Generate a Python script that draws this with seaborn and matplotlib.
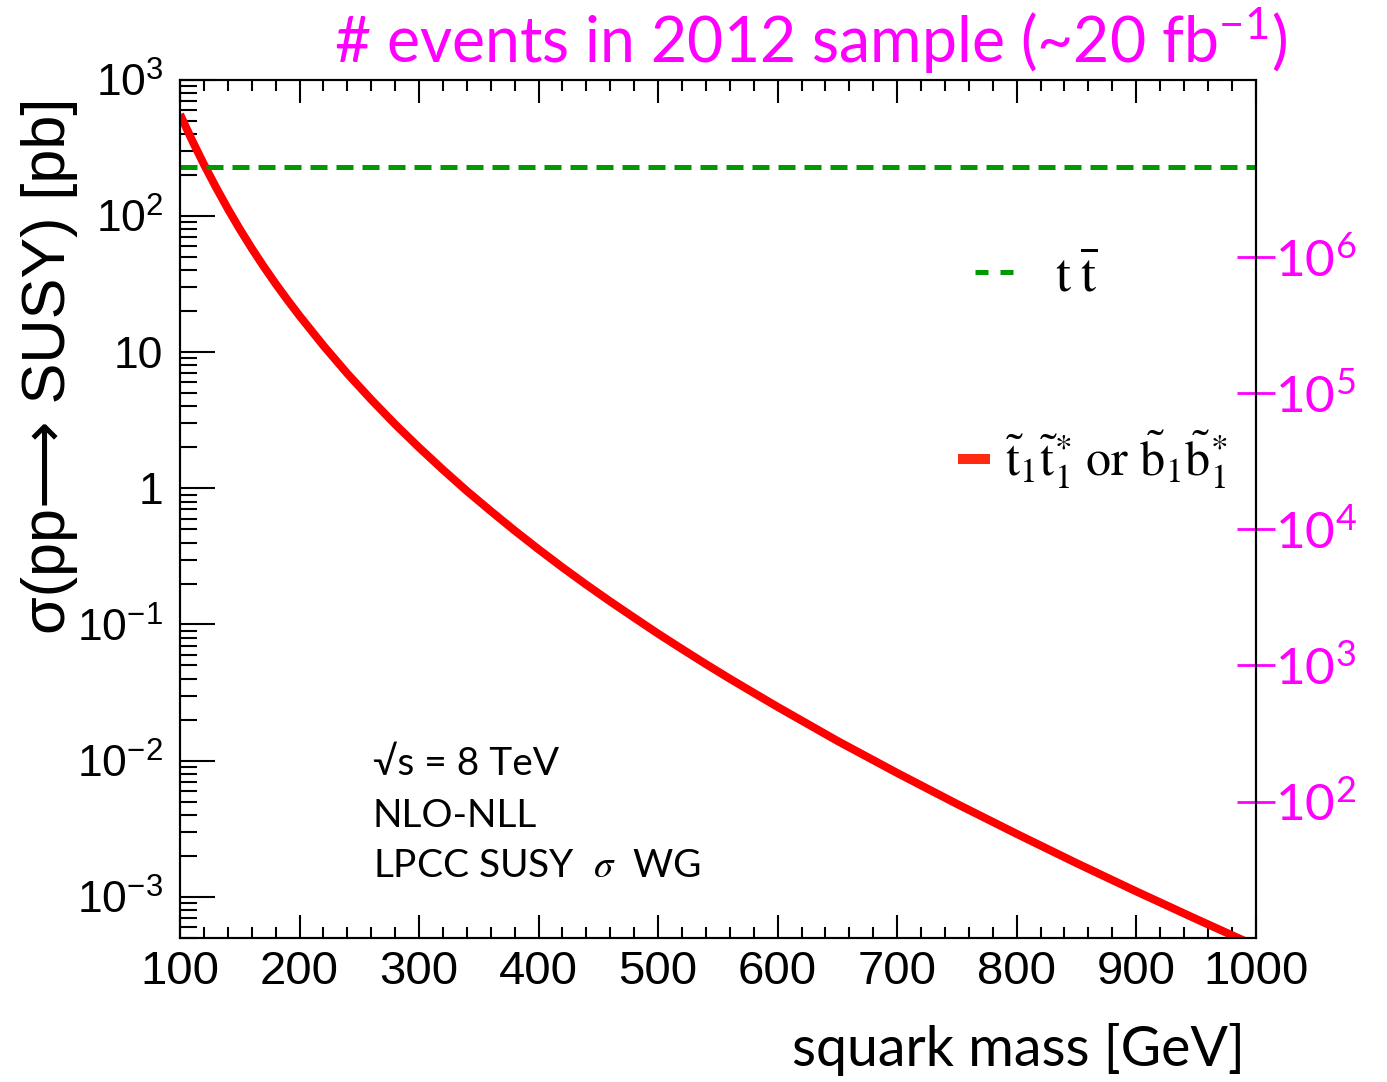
import numpy as np
import pandas as pd
import matplotlib
matplotlib.use("Agg")
import matplotlib.pyplot as plt
from matplotlib.lines import Line2D
from matplotlib.ticker import FixedLocator, MultipleLocator, LogLocator, NullLocator, FuncFormatter, NullFormatter
import seaborn as sns

# stop / sbottom pair production cross section at 8 TeV, NLO+NLL [pb]
squark_mass = [100, 110, 120, 130, 140, 150, 160, 170, 180, 190,
               200, 220, 240, 260, 280, 300, 320, 340, 360, 380,
               400, 420, 440, 460, 480, 500, 520, 540, 560, 580,
               600, 650, 700, 750, 800, 850, 900, 950, 1000]
xsec_pb = [559.76, 361.92, 240.08, 163.38, 113.32, 80.27, 58.01, 42.64, 31.87, 24.16,
           18.52, 11.18, 6.969, 4.488, 2.956, 1.996, 1.371, 0.9570, 0.6813, 0.4897,
           0.3568, 0.2627, 0.1958, 0.1475, 0.1122, 0.08558, 0.06602, 0.05117, 0.03996, 0.03146,
           0.02480, 0.01396, 0.008114, 0.004806, 0.002896, 0.001767, 0.001095, 0.000687, 0.000435]

# top pair cross section [pb]
ttbar_xsec = 231.0

# integrated luminosity of the 2012 sample, in pb^-1
lumi_pb = 20000.0

x_major = [100, 200, 300, 400, 500, 600, 700, 800, 900, 1000]
y_major = [1e-3, 1e-2, 1e-1, 1, 10, 1e2, 1e3]
y_labels = [r"$\mathregular{10^{-3}}$", r"$\mathregular{10^{-2}}$", r"$\mathregular{10^{-1}}$",
            "1", "10", r"$\mathregular{10^{2}}$", r"$\mathregular{10^{3}}$"]
events_major = [1e2, 1e3, 1e4, 1e5, 1e6]
events_labels = [r"$\mathregular{10^{2}}$", r"$\mathregular{10^{3}}$", r"$\mathregular{10^{4}}$",
                 r"$\mathregular{10^{5}}$", r"$\mathregular{10^{6}}$"]

sns.set_style("ticks")
plt.rcParams["font.family"] = ["Liberation Sans", "DejaVu Sans"]
plt.rcParams["axes.linewidth"] = 1.5
for key in ("text.color", "axes.labelcolor", "xtick.color", "ytick.color", "axes.edgecolor"):
    plt.rcParams[key] = "black"

MAGENTA = "#ff00ff"
HUMANIST = ["Lato", "DejaVu Sans"]

fig = plt.figure(figsize=(13.87, 10.82), dpi=100)
ax = fig.add_axes([180 / 1387, 1 - 937.7 / 1082, (1255.7 - 180) / 1387, (937.7 - 80) / 1082])

df = pd.DataFrame({"mass": squark_mass, "xsec": xsec_pb})
sns.lineplot(data=df, x="mass", y="xsec", color="#ff0000", linewidth=5.8, ax=ax,
             solid_capstyle="butt", solid_joinstyle="round")

df_tt = pd.DataFrame({"mass": [squark_mass[0], squark_mass[-1]],
                      "xsec": [ttbar_xsec, ttbar_xsec]})
sns.lineplot(data=df_tt, x="mass", y="xsec", color="#009900", linewidth=3.6,
             linestyle=(0, (3.4, 1.8)), ax=ax)

ax.set_yscale("log")
ax.set_xlim(100, 1000)
ax.set_ylim(5e-4, 1e3)
ax.set_xlabel("")
ax.set_ylabel("")

ax.xaxis.set_major_locator(FixedLocator(x_major))
ax.xaxis.set_minor_locator(MultipleLocator(20))
ax.yaxis.set_major_locator(FixedLocator(y_major))
ax.yaxis.set_major_formatter(FuncFormatter(lambda v, p: y_labels[y_major.index(v)] if v in y_major else ""))
ax.yaxis.set_minor_locator(LogLocator(base=10, subs=np.arange(2, 10), numticks=20))
ax.yaxis.set_minor_formatter(NullFormatter())

ax.tick_params(axis="x", which="major", direction="in", length=16.5, width=1.5,
               top=True, bottom=True, labelsize=34, pad=9, colors="black")
ax.tick_params(axis="x", which="minor", direction="in", length=8, width=1.5, top=True, bottom=True,
               colors="black")
ax.tick_params(axis="y", which="major", direction="in", length=25, width=1.5,
               left=True, right=True, labelsize=32, pad=12, colors="black")
ax.tick_params(axis="y", which="minor", direction="in", length=12, width=1.5, left=True, right=True,
               colors="black")
for s in ax.spines.values():
    s.set_visible(True)
    s.set_color("black")
    s.set_linewidth(1.5)

# second scale: expected number of events
ax2 = ax.twinx()
ax2.set_yscale("log")
ax2.set_ylim(5e-4 * lumi_pb, 1e3 * lumi_pb)
ax2.yaxis.set_major_locator(FixedLocator(events_major))
ax2.yaxis.set_major_formatter(FuncFormatter(
    lambda v, p: events_labels[events_major.index(v)] if v in events_major else ""))
ax2.yaxis.set_minor_locator(NullLocator())
ax2.tick_params(axis="y", which="major", direction="inout", length=28, width=2,
                colors=MAGENTA, labelsize=37, pad=0)
for lab in ax2.get_yticklabels():
    lab.set_family(HUMANIST)
for s in ax2.spines.values():
    s.set_color("black")
    s.set_linewidth(1.5)

# legend entries
h_tt = Line2D([], [], color="#009900", linewidth=3.6, linestyle=(0, (2.6, 2.4)))
h_st = Line2D([], [], color="#ff2a10", linewidth=7.2, solid_capstyle="butt")
leg1 = ax.legend([h_tt], [r"$\mathrm{t\;\overline{t}}$"], loc="center left",
                 bbox_to_anchor=(0.739, 0.770), frameon=False, fontsize=39,
                 handlelength=0.74, handletextpad=0.74, borderpad=0, borderaxespad=0)
ax.add_artist(leg1)
leg2 = ax.legend([h_st],
                 [r"$\tilde{\mathrm{t}}_1\tilde{\mathrm{t}}_1^{*}\ \mathrm{or}\ \tilde{\mathrm{b}}_1\tilde{\mathrm{b}}_1^{*}$"],
                 loc="center left", bbox_to_anchor=(0.723, 0.557), frameon=False, fontsize=36,
                 handlelength=0.65, handletextpad=0.3, borderpad=0, borderaxespad=0)
for lg in (leg1, leg2):
    for t in lg.get_texts():
        t.set_math_fontfamily("stix")

# annotation block
ax.text(0.179, 0.190, "\u221as = 8 TeV", transform=ax.transAxes, fontsize=28,
        family=HUMANIST, va="baseline", ha="left")
ax.text(0.179, 0.129, "NLO-NLL", transform=ax.transAxes, fontsize=28,
        family=HUMANIST, va="baseline", ha="left")
t_wg = ax.text(0.179, 0.0708, r"LPCC SUSY  $\sigma$  WG", transform=ax.transAxes, fontsize=28,
               family=HUMANIST, va="baseline", ha="left")
t_wg.set_math_fontfamily("stix")

# axis titles
fig.text(1245 / 1387, 1 - 1050 / 1082, "squark mass [GeV]", fontsize=40,
         family=HUMANIST, ha="right", va="center")
fig.text(50 / 1387, 1 - 98 / 1082, "\u03c3(pp\u27f6 SUSY) [pb]", fontsize=44,
         rotation=90, ha="center", va="top")
fig.text(1287 / 1387, 1 - 40 / 1082, r"# events in 2012 sample (~20 fb$^{\mathregular{-1}}$)",
         fontsize=45, color=MAGENTA, family=HUMANIST, ha="right", va="center")

fig.savefig("out.png", dpi=100)
